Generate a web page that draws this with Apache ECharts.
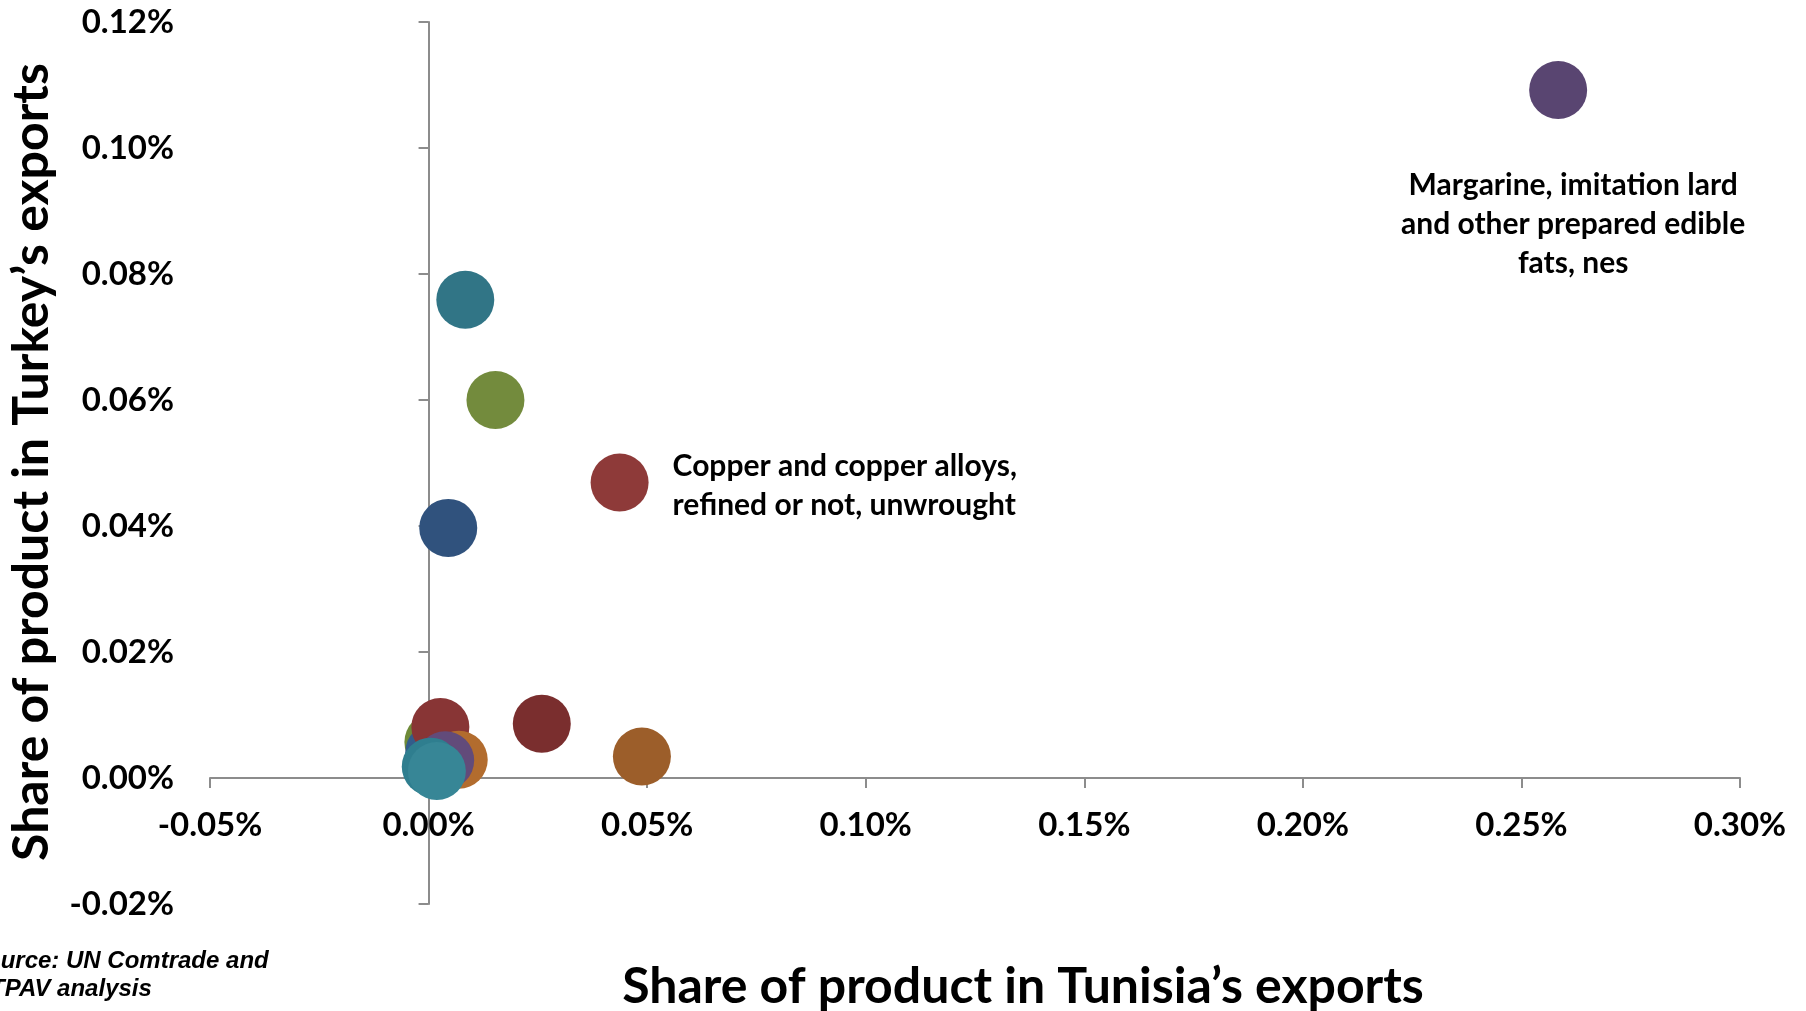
<!DOCTYPE html>
<html>
<head>
<meta charset="utf-8">
<script src="https://cdn.jsdelivr.net/npm/echarts@6/dist/echarts.min.js"></script>
<style>
html,body{margin:0;padding:0;background:#fff;}
#chart{width:1806px;height:1011px;}
</style>
</head>
<body>
<div id="chart"></div>
<script>
// Share of product in Tunisia's exports (%)
const tunisiaShare = [0.0084, 0.0153, 0.0045, 0.0437, 0.0259, 0.0488, 0.2584,
                      0.0011, 0.0013, 0.0027, 0.0069, 0.0038, 0.0005, 0.0019];
// Share of product in Turkey's exports (%)
const turkeyShare  = [0.0759, 0.0600, 0.0397, 0.0469, 0.0086, 0.0034, 0.1092,
                      0.0057, 0.0041, 0.0081, 0.0029, 0.0028, 0.0018, 0.0011];
const pointColors  = ['#317586', '#738B3D', '#30527D', '#8E3A39', '#7A2E2E', '#9C5E2A', '#594571',
                      '#6E8A38', '#335C8A', '#883535', '#B26C2E', '#624B7A', '#2F7E8F', '#378696'];
const pointLabels  = ['', '', '', 'Copper and copper alloys,\nrefined or not, unwrought', '', '',
                      'Margarine, imitation lard\nand other prepared edible\nfats, nes',
                      '', '', '', '', '', '', ''];
const xTicks = {min: -0.05, max: 0.30, step: 0.05};
const yTicks = {min: -0.02, max: 0.12, step: 0.02};
const xTitle = 'Share of product in Tunisia\u2019s exports';
const yTitle = 'Share of product in Turkey\u2019s exports';
const sourceLine1 = 'Source: UN Comtrade and';
const sourceLine2 = 'TPAV analysis';

const FONT = 'Lato, "Open Sans", sans-serif';
const pct = v => (Math.abs(v) < 1e-9 ? 0 : v).toFixed(2) + '%';
const axisGray = '#8c8c8c';

const labelStyles = {
  3: {show: true, position: 'right', distance: 24, align: 'left', verticalAlign: 'middle', offset: [0, 3]},
  6: {show: true, position: 'bottom', distance: 47, align: 'center', verticalAlign: 'top', offset: [15, 0]}
};

const data = tunisiaShare.map((x, i) => {
  const item = {value: [x, turkeyShare[i]], itemStyle: {color: pointColors[i], opacity: 1}};
  if (pointLabels[i]) {
    item.label = Object.assign({
      formatter: pointLabels[i],
      color: '#000', fontFamily: FONT, fontWeight: 'bold', fontSize: 30, lineHeight: 39
    }, labelStyles[i]);
  }
  return item;
});

const chart = echarts.init(document.getElementById('chart'), null, {renderer: 'canvas'});
chart.setOption({
  animation: false,
  backgroundColor: '#ffffff',
  grid: [
    {left: 210, right: 66, top: 22, bottom: 107, containLabel: false},
    // helper grid whose bottom edge is the zero line, used only for the x tick labels
    {left: 210, right: 66, top: 22, bottom: 232, containLabel: false}
  ],
  xAxis: [{
    type: 'value', gridIndex: 0, min: xTicks.min, max: xTicks.max, interval: xTicks.step,
    axisLine: {show: true, onZero: true, lineStyle: {color: axisGray, width: 2}},
    axisTick: {show: true, inside: false, length: 10, lineStyle: {color: axisGray, width: 2}},
    axisLabel: {show: false},
    splitLine: {show: false}
  }, {
    type: 'value', gridIndex: 1, position: 'bottom', min: xTicks.min, max: xTicks.max, interval: xTicks.step,
    axisLine: {show: false, onZero: false},
    axisTick: {show: false},
    axisLabel: {formatter: pct, fontFamily: FONT, fontWeight: 'bold', fontSize: 33, color: '#000', margin: 30,
                showMinLabel: true, showMaxLabel: true},
    splitLine: {show: false}
  }],
  yAxis: [{
    type: 'value', gridIndex: 0, min: yTicks.min, max: yTicks.max, interval: yTicks.step, position: 'left',
    axisLine: {show: false, onZero: false},
    axisTick: {show: false},
    axisLabel: {formatter: pct, fontFamily: FONT, fontWeight: 'bold', fontSize: 33, color: '#000', margin: 36},
    splitLine: {show: false}
  }, {
    type: 'value', gridIndex: 0, min: yTicks.min, max: yTicks.max, interval: yTicks.step, position: 'left',
    axisLine: {show: true, onZero: true, lineStyle: {color: axisGray, width: 2}},
    axisTick: {show: true, inside: false, length: 10, lineStyle: {color: axisGray, width: 2}},
    axisLabel: {show: false},
    splitLine: {show: false}
  }, {
    type: 'value', gridIndex: 1, show: false, min: 0, max: 1
  }],
  series: [{
    type: 'scatter',
    xAxisIndex: 0, yAxisIndex: 0,
    symbol: 'circle', symbolSize: 58,
    data: data,
    label: {show: false},
    emphasis: {disabled: true}
  }],
  graphic: [
    {type: 'text', x: 32, y: 462, rotation: Math.PI / 2,
     style: {text: yTitle, font: 'bold 50px ' + FONT, fill: '#000', align: 'center', verticalAlign: 'middle'}},
    {type: 'text', x: 1023, y: 987,
     style: {text: xTitle, font: 'bold 50px ' + FONT, fill: '#000', align: 'center', verticalAlign: 'middle'}},
    {type: 'text', x: -30, y: 961,
     style: {text: sourceLine1, font: 'italic bold 24px "Liberation Sans", Arial, sans-serif', fill: '#000', align: 'left', verticalAlign: 'middle'}},
    {type: 'text', x: -10, y: 989,
     style: {text: sourceLine2, font: 'italic bold 24px "Liberation Sans", Arial, sans-serif', fill: '#000', align: 'left', verticalAlign: 'middle'}}
  ]
});
</script>
</body>
</html>
